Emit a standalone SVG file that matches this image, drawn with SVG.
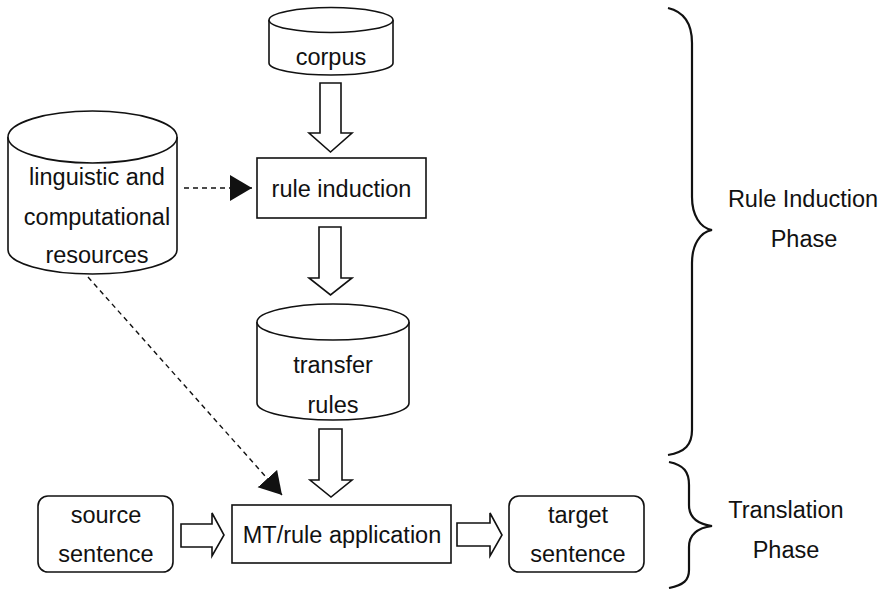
<svg xmlns="http://www.w3.org/2000/svg" width="885" height="589" viewBox="0 0 885 589">
<style>
.s{fill:#fff;stroke:#111;stroke-width:1.6}
.t{font-family:"Liberation Sans",Arial,sans-serif;font-size:23.5px;fill:#111;text-anchor:middle}
.d{fill:none;stroke:#111;stroke-width:1.4;stroke-dasharray:5,4}
.b{fill:none;stroke:#111;stroke-width:2.2}
</style>
<defs>
<marker id="ah" markerUnits="userSpaceOnUse" markerWidth="24" markerHeight="28" refX="22" refY="13" orient="auto"><path d="M0,0 L22,13 L0,26 z" fill="#111"/></marker>
</defs>
<rect width="885" height="589" fill="#fff"/>
<g id="corpus">
<path class="s" d="M269,20 L269,63 A62,12 0 0 0 393,63 L393,20"/>
<ellipse class="s" cx="331" cy="20" rx="62" ry="12.5"/>
<text class="t" x="331" y="65">corpus</text>
</g>
<g id="resources">
<path class="s" d="M8,137 L8,250 A84.5,24 0 0 0 177,250 L177,137"/>
<ellipse class="s" cx="92.5" cy="137" rx="84.5" ry="26"/>
<text class="t" x="97" y="185">linguistic and</text>
<text class="t" x="97" y="225">computational</text>
<text class="t" x="97" y="263">resources</text>
</g>
<g id="induction">
<rect class="s" x="257" y="158" width="169" height="60"/>
<text class="t" x="341.5" y="197">rule induction</text>
</g>
<g id="transfer">
<path class="s" d="M257,322 L257,403 A76,17 0 0 0 409,403 L409,322"/>
<ellipse class="s" cx="333" cy="322" rx="76" ry="18"/>
<text class="t" x="333" y="373">transfer</text>
<text class="t" x="333" y="413">rules</text>
</g>
<g id="mt">
<rect class="s" x="232" y="505" width="219" height="58"/>
<text class="t" x="342" y="543">MT/rule application</text>
</g>
<g id="source">
<rect class="s" x="38" y="496" width="135" height="76" rx="10"/>
<text class="t" x="106" y="523">source</text>
<text class="t" x="106" y="562">sentence</text>
</g>
<g id="target">
<rect class="s" x="509" y="496" width="135" height="76" rx="10"/>
<text class="t" x="578" y="523">target</text>
<text class="t" x="578" y="562">sentence</text>
</g>
<g id="connectors">
<polygon class="s" points="320,83 341,83 341,133 352,133 330.5,152 309,133 320,133"/>
<polygon class="s" points="319,227 341,227 341,278 352,278 330.5,295 309,278 319,278"/>
<polygon class="s" points="319,429 342,429 342,480 352,480 331,497 310,480 319,480"/>
<polygon class="s" points="181,524 212,524 212,513 224,535 212,556 212,547 181,547"/>
<polygon class="s" points="457,523 490,523 490,513 502,535 490,556 490,546 457,546"/>
<line class="d" x1="184" y1="188" x2="252" y2="188" marker-end="url(#ah)"/>
<line class="d" x1="88" y1="277" x2="282" y2="495" marker-end="url(#ah)"/>
</g>
<g id="phases">
<path class="b" d="M668,8 C685,12 692,25 692,43 L692,197 C692,215 700,228 712,230 C700,232 692,245 692,263 L692,430 C692,445 685,452 668,455"/>
<path class="b" d="M669,462 C684,465 689,472 689,485 L689,505 C689,517 697,524 712,526 C697,528 689,535 689,547 L689,570 C689,580 684,585 669,588"/>
<text class="t" x="803" y="207">Rule Induction</text>
<text class="t" x="804" y="247">Phase</text>
<text class="t" x="786" y="518">Translation</text>
<text class="t" x="786" y="558">Phase</text>
</g>
</svg>
